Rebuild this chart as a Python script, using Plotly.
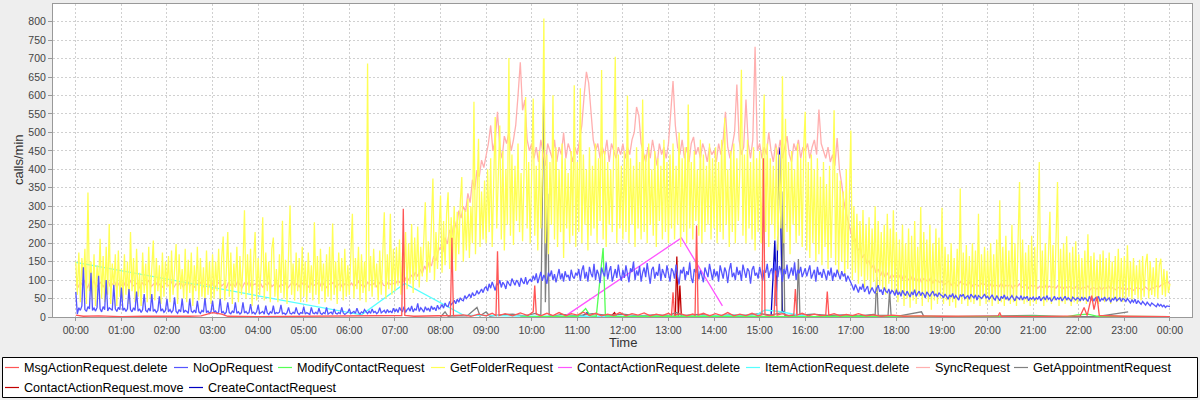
import plotly.graph_objects as go
import pandas as pd

# ---------------- data (calls/min) ----------------
# Dense series sampled on regular minute grids
getfolder_step = 2   # minutes between samples
getfolder = [
150, 60, 175, 40, 160, 95, 185, 35, 337, 70, 150, 45, 170, 30, 140, 80, 212, 50, 165, 40, 190, 60, 252, 35, 145, 75, 170, 30, 180, 55,
130, 45, 170, 60, 150, 35, 230, 70, 160, 40, 185, 55, 120, 30, 175, 65, 145, 40, 190, 50, 130, 207, 45, 160, 70, 140, 35, 175, 55, 150,
80, 165, 40, 180, 60, 145, 198, 35, 170, 75, 130, 50, 185, 40, 155, 65, 175, 30, 140, 70, 190, 45, 160, 55, 135, 40, 180, 60, 150, 35,
170, 50, 150, 70, 185, 40, 160, 218, 45, 120, 230, 55, 175, 35, 145, 80, 190, 40, 165, 60, 140, 289, 50, 170, 65, 185, 30, 150, 230, 45,
160, 60, 140, 270, 45, 175, 70, 150, 40, 185, 215, 55, 130, 40, 170, 65, 261, 50, 155, 35, 180, 302, 60, 145, 45, 175, 70, 160, 40, 190,
55, 150, 40, 175, 65, 140, 45, 257, 60, 165, 35, 185, 70, 145, 40, 170, 55, 190, 45, 253, 60, 150, 35, 175, 70, 160, 45, 185, 55, 140,
60, 175, 280, 50, 160, 75, 190, 45, 170, 65, 150, 40, 687, 70, 165, 55, 185, 80, 145, 45, 180, 60, 195, 284, 50, 170, 75, 280, 60, 185,
70, 190, 85, 210, 60, 175, 95, 230, 75, 200, 90, 252, 65, 215, 100, 245, 80, 190, 110, 225, 311, 95, 205, 120, 240, 375, 100, 230, 130, 250,
329, 120, 260, 140, 280, 338, 130, 270, 155, 300, 125, 285, 170, 310, 379, 150, 290, 180, 320, 160, 300, 200, 583, 170, 330, 483, 190, 340, 210, 370,
200, 400, 230, 430, 190, 380, 542, 240, 420, 519, 210, 450, 180, 400, 250, 702, 220, 440, 195, 410, 260, 470, 230, 390, 205, 450, 596, 240, 420, 200,
430, 592, 220, 410, 180, 450, 240, 390, 809, 200, 440, 170, 420, 250, 601, 210, 460, 190, 400, 230, 470, 160, 430, 240, 390, 200, 450, 220, 628, 190,
420, 230, 620, 200, 440, 250, 400, 180, 460, 220, 410, 240, 470, 200, 430, 260, 669, 210, 450, 190, 420, 250, 400, 230, 460, 705, 200, 440, 240, 410,
210, 450, 230, 600, 200, 430, 250, 410, 190, 460, 240, 420, 210, 589, 230, 440, 200, 470, 250, 400, 220, 450, 190, 430, 260, 410, 210, 480, 230, 420,
200, 440, 240, 470, 210, 410, 250, 500, 190, 430, 230, 460, 200, 576, 240, 420, 210, 450, 260, 400, 220, 480, 200, 440, 230, 410, 250, 470, 210, 430,
240, 460, 200, 420, 230, 480, 210, 540, 250, 400, 190, 450, 230, 470, 200, 430, 260, 410, 670, 220, 440, 200, 480, 240, 420, 210, 460, 180, 430, 230,
450, 200, 420, 603, 230, 470, 190, 430, 250, 410, 210, 460, 180, 440, 240, 652, 200, 537, 230, 420, 170, 450, 250, 400, 200, 470, 220, 430, 190, 460,
556, 180, 420, 160, 440, 200, 400, 150, 430, 170, 380, 140, 420, 190, 360, 130, 410, 160, 350, 560, 140, 390, 120, 370, 150, 340, 110, 400, 130, 330,
505, 100, 300, 120, 280, 90, 260, 110, 290, 80, 250, 100, 270, 70, 240, 95, 300, 65, 260, 85, 230, 75, 250, 60, 280, 90, 240, 70, 289, 65,
230, 40, 210, 60, 250, 30, 200, 50, 240, 25, 220, 45, 260, 35, 190, 55, 298, 30, 230, 50, 210, 40, 250, 20, 200, 45, 240, 35, 215, 50,
296, 35, 190, 45, 170, 30, 200, 40, 160, 25, 185, 50, 348, 35, 175, 45, 195, 30, 165, 40, 200, 35, 180, 45, 280, 30, 170, 50, 190, 35,
180, 40, 200, 30, 170, 45, 210, 35, 316, 40, 190, 30, 220, 45, 180, 35, 250, 40, 200, 30, 185, 366, 45, 210, 35, 175, 40, 195, 30, 220,
40, 190, 35, 210, 420, 45, 180, 30, 200, 40, 170, 285, 35, 195, 45, 215, 366, 30, 185, 40, 200, 35, 219, 45, 175, 30, 190, 40, 205, 35,
170, 40, 160, 45, 180, 35, 224, 50, 165, 40, 175, 45, 155, 35, 170, 50, 180, 40, 160, 45, 175, 35, 150, 50, 165, 40, 185, 45, 160, 40,
165, 50, 194, 55, 150, 45, 160, 60, 140, 50, 155, 45, 165, 55, 145, 171, 50, 150, 60, 135, 55, 160, 50, 140, 158, 60, 130, 55, 125, 65,
90]

sync_step = 3
sync = [
90, 80, 95, 85, 100, 78, 92, 86, 98, 80, 88, 94, 82, 90, 100, 84, 88, 96, 80, 92,
86, 95, 80, 90, 98, 84, 88, 92, 78, 94, 86, 90, 100, 82, 88, 95, 84, 90, 80, 92,
88, 84, 96, 80, 90, 86, 94, 82, 88, 98, 84, 90, 80, 92, 86, 95, 82, 88, 90, 84,
92, 80, 88, 95, 84, 90, 78, 94, 86, 90, 82, 96, 88, 80, 92, 86, 98, 82, 88, 90,
84, 92, 80, 90, 86, 96, 82, 88, 94, 80, 90, 85, 92, 78, 88, 95, 84, 90, 82, 94,
86, 90, 80, 94, 84, 88, 92, 82, 96, 86, 80, 90, 88, 94, 82, 86, 92, 80, 90, 88,
85, 92, 82, 88, 96, 84, 90, 80, 94, 88, 86, 92, 82, 90, 98, 86, 84, 94, 88, 92,
88, 98, 94, 104, 96, 108, 100, 114, 106, 122, 110, 130, 118, 138, 126, 150, 138, 165, 152, 178,
190, 176, 215, 198, 236, 220, 262, 240, 288, 268, 300, 285, 335, 310, 372, 345, 398, 380, 425, 405,
440, 470, 519, 450, 480, 556, 460, 430, 490, 470, 500, 450, 480, 520, 600, 690, 560, 588, 480, 450,
470, 430, 460, 420, 480, 440, 410, 470, 450, 430, 480, 420, 460, 440, 500, 430, 470, 450, 420, 460,
440, 480, 520, 600, 664, 634, 560, 480, 450, 470, 430, 460, 440, 480, 420, 470, 450, 430, 460, 440,
470, 430, 460, 440, 480, 500, 569, 546, 470, 440, 420, 460, 430, 480, 450, 410, 470, 440, 460, 430,
470, 560, 639, 520, 460, 440, 480, 430, 460, 420, 470, 488, 440, 460, 430, 470, 450, 420, 460, 440,
450, 420, 470, 440, 480, 556, 460, 430, 470, 500, 630, 480, 440, 460, 589, 470, 430, 480, 732, 450,
470, 430, 460, 440, 500, 450, 420, 470, 440, 480, 430, 460, 490, 440, 420, 470, 450, 480, 430, 460,
450, 470, 430, 460, 480, 440, 562, 470, 450, 430, 460, 420, 440, 410, 485, 400, 360, 311, 280, 250,
230, 204, 212, 180, 188, 160, 170, 146, 152, 132, 142, 120, 130, 112, 126, 108, 120, 104, 116, 108,
112, 106, 118, 100, 110, 104, 96, 112, 102, 98, 108, 94, 104, 100, 96, 106, 92, 100, 98, 94,
96, 88, 92, 98, 86, 94, 90, 84, 96, 88, 92, 86, 94, 82, 90, 88, 84, 92, 86, 90,
84, 90, 80, 88, 86, 82, 92, 80, 86, 84, 88, 78, 86, 82, 90, 80, 84, 88, 78, 86,
82, 86, 78, 84, 80, 88, 76, 84, 80, 82, 78, 86, 80, 76, 84, 78, 82, 80, 76, 84,
80, 76, 82, 78, 84, 74, 80, 78, 76, 82, 74, 80, 78, 84, 76, 80, 74, 78, 82, 76,
78, 74, 80, 76, 72, 80, 76, 78, 74, 82, 76, 72, 80, 78, 84, 80, 86, 88, 92, 96,
90]

noop_step = 2
noop = [
68, 8, 25, 18, 30, 135, 20, 15, 28, 22, 120, 18, 24, 16, 26, 112, 22, 14, 28, 20, 100, 16, 25, 20, 18, 87, 22, 15, 26, 20,
80, 18, 24, 15, 22, 76, 20, 14, 25, 18, 69, 16, 22, 12, 20, 62, 18, 14, 24, 16, 62, 15, 20, 12, 18, 56, 16, 22, 13, 18,
49, 14, 20, 12, 18, 53, 15, 10, 20, 14, 49, 12, 18, 15, 10, 49, 16, 12, 19, 11, 44, 14, 10, 18, 13, 51, 12, 16, 10, 15,
44, 12, 16, 9, 14, 49, 11, 15, 8, 13, 40, 12, 9, 16, 11, 40, 10, 14, 8, 12, 40, 11, 15, 9, 12, 35, 10, 13, 8, 14,
33, 9, 12, 15, 8, 31, 11, 7, 14, 10, 31, 8, 12, 10, 13, 33, 9, 11, 7, 12, 26, 10, 8, 13, 9, 26, 11, 7, 12, 10,
28, 8, 12, 10, 7, 26, 11, 9, 13, 8, 24, 10, 7, 12, 9, 26, 8, 11, 13, 7, 22, 10, 8, 12, 9, 26, 11, 7, 10, 13,
22, 9, 12, 15, 10, 24, 12, 8, 14, 11, 20, 13, 9, 16, 10, 22, 12, 15, 9, 13, 25, 11, 14, 18, 10, 20, 13, 16, 11, 24,
14, 22, 12, 26, 18, 15, 28, 12, 20, 24, 16, 30, 14, 22, 18, 37, 15, 25, 20, 13, 28, 18, 24, 15, 30, 20, 26, 17, 32, 22,
26, 34, 24, 38, 30, 28, 42, 33, 38, 45, 36, 48, 40, 52, 46, 44, 58, 50, 55, 62, 52, 66, 58, 60, 72, 62, 68, 76, 66, 78,
82, 70, 90, 78, 95, 84, 72, 92, 86, 100, 80, 94, 88, 76, 98, 90, 84, 104, 92, 86, 100, 94, 82, 106, 96, 90, 108, 88, 98, 102,
95, 112, 100, 118, 92, 108, 122, 98, 114, 104, 90, 120, 110, 126, 100, 116, 94, 112, 130, 102, 118, 96, 124, 108, 114, 98, 128, 110, 104, 120,
112, 130, 98, 126, 140, 104, 122, 96, 136, 118, 108, 144, 100, 128, 116, 92, 134, 120, 110, 148, 102, 124, 138, 96, 118, 130, 106, 142, 114, 98,
128, 106, 140, 118, 94, 132, 122, 150, 100, 126, 112, 138, 96, 120, 134, 108, 146, 116, 90, 128, 136, 104, 122, 112, 144, 98, 130, 118, 106, 140,
116, 96, 132, 124, 104, 142, 110, 88, 128, 118, 136, 100, 124, 114, 148, 106, 92, 130, 120, 138, 102, 126, 112, 94, 134, 122, 108, 144, 118, 100,
130, 110, 124, 96, 140, 116, 104, 134, 122, 92, 128, 146, 108, 120, 100, 136, 114, 126, 98, 142, 118, 106, 132, 124, 90, 128, 138, 112, 120, 104,
136, 114, 98, 128, 120, 144, 106, 124, 132, 100, 150, 118, 108, 138, 126, 96, 130, 116, 142, 104, 122, 134, 112, 148, 100, 128, 118, 136, 108, 124,
132, 110, 124, 140, 104, 118, 128, 96, 136, 114, 122, 106, 130, 116, 100, 126, 112, 134, 98, 120, 108, 128, 114, 102, 124, 110, 118, 96, 112, 104,
96, 84, 72, 88, 78, 66, 82, 74, 90, 68, 76, 84, 62, 72, 80, 70, 64, 78, 86, 68, 74, 60, 80, 70, 66, 76, 62, 72, 68, 58,
74, 60, 68, 56, 72, 64, 58, 70, 62, 54, 68, 60, 74, 56, 64, 70, 58, 66, 62, 52, 68, 60, 56, 64, 70, 58, 62, 54, 66, 60,
58, 52, 62, 56, 48, 60, 54, 64, 50, 58, 52, 46, 60, 56, 62, 50, 54, 58, 48, 62, 56, 52, 60, 46, 58, 54, 50, 56, 62, 52,
56, 48, 54, 60, 50, 46, 58, 52, 44, 56, 50, 60, 48, 54, 46, 52, 58, 50, 44, 56, 52, 48, 58, 46, 54, 50, 56, 44, 52, 48,
54, 46, 52, 48, 56, 44, 50, 54, 46, 58, 48, 52, 42, 50, 56, 46, 52, 48, 54, 44, 50, 56, 46, 52, 48, 42, 54, 50, 46, 52,
50, 44, 54, 46, 52, 48, 42, 56, 46, 50, 44, 52, 48, 56, 42, 50, 46, 54, 44, 48, 52, 40, 50, 46, 54, 44, 48, 52, 42, 50,
48, 42, 50, 44, 38, 46, 40, 48, 36, 44, 40, 34, 42, 38, 32, 40, 36, 30, 38, 34, 32, 28, 36, 30, 34, 28, 32, 26, 30, 28,
28]

# Sparse series: (minute of day, calls/min)
msg_delete = [(0, 5), (10, 2), (30, 3), (60, 1), (90, 2), (120, 1), (150, 2), (165, 3), (180, 12), (192, 8), (200, 2),
    (240, 1), (300, 2), (360, 1), (420, 2), (429, 4), (431, 293), (433, 4), (445, 2), (480, 3), (493, 4), (495, 215),
    (497, 3), (510, 6), (520, 2), (530, 8), (540, 3), (548, 10), (553, 4), (555, 178), (557, 4), (565, 9), (575, 3),
    (585, 11), (595, 4), (602, 14), (604, 85), (606, 8), (612, 3), (620, 10), (628, 4), (636, 12), (645, 3), (652, 9),
    (660, 5), (668, 13), (676, 4), (684, 10), (692, 3), (700, 8), (708, 4), (716, 12), (724, 3), (732, 9), (740, 5),
    (748, 11), (756, 3), (764, 8), (772, 4), (780, 10), (784, 5), (786, 67), (788, 5), (796, 9), (804, 3), (812, 8),
    (815, 5), (817, 248), (819, 5), (826, 10), (834, 3), (842, 9), (850, 4), (858, 12), (866, 3), (874, 8), (882, 4),
    (890, 10), (898, 3), (903, 6), (905, 430), (907, 6), (912, 4), (919, 5), (921, 126), (923, 5), (930, 9), (938, 3),
    (945, 6), (947, 76), (949, 5), (956, 10), (964, 3), (972, 8), (980, 4), (987, 5), (989, 69), (991, 5), (998, 9),
    (1006, 3), (1014, 7), (1022, 4), (1030, 9), (1040, 3), (1050, 6), (1060, 2), (1075, 5), (1090, 2), (1110, 3),
    (1140, 2), (1170, 3), (1200, 2), (1214, 3), (1216, 12), (1218, 2), (1260, 1), (1300, 2), (1322, 3), (1327, 26),
    (1331, 4), (1337, 58), (1340, 20), (1344, 56), (1347, 4), (1380, 2), (1410, 1), (1440, 1)]
modify_contact = [(585, 0), (640, 1), (661, 2), (671, 23), (677, 3), (685, 2), (694, 187), (697, 3), (720, 1), (780, 2),
    (840, 1), (900, 2), (960, 1), (1020, 2), (1080, 1), (1140, 2), (1200, 1), (1260, 2), (1305, 1), (1318, 6),
    (1332, 8), (1345, 2), (1400, 1), (1440, 1)]
contact_delete = [(646, 5), (797, 214), (851, 30)]
item_delete = [(0, 148), (376, 6), (433, 91), (510, 5), (600, 2), (700, 3), (800, 2), (896, 6), (907, 19), (925, 15),
    (944, 8), (960, 2)]
get_appointment = [(480, 0), (486, 14), (490, 2), (500, 4), (515, 3), (528, 26), (532, 3), (540, 14), (545, 2), (555, 5),
    (575, 8), (590, 3), (605, 10), (612, 4), (616, 635), (618, 40), (621, 334), (623, 5), (630, 3), (640, 7), (660, 3),
    (680, 9), (700, 4), (720, 8), (740, 3), (760, 6), (780, 4), (790, 12), (800, 4), (820, 7), (840, 3), (860, 6),
    (880, 4), (900, 9), (915, 5), (929, 12), (931, 340), (933, 5), (940, 4), (949, 6), (951, 157), (953, 5), (970, 8),
    (990, 4), (1010, 6), (1030, 3), (1050, 7), (1052, 5), (1054, 108), (1056, 5), (1069, 4), (1071, 71), (1073, 3),
    (1084, 3), (1113, 14), (1116, 2), (1160, 1), (1230, 3), (1260, 4), (1300, 1), (1343, 1), (1385, 14)]
contact_move = [(690, 0), (705, 3), (709, 12), (712, 0), (789, 0), (791, 164), (793, 2), (795, 85), (797, 0), (860, 0)]
create_contact = [(660, 0), (668, 4), (673, 12), (678, 0), (915, 0), (920, 207), (922, 30), (926, 460), (930, 17),
    (934, 5), (945, 0)]

series_names = ["MsgActionRequest.delete", "NoOpRequest", "ModifyContactRequest", "GetFolderRequest",
                "ContactActionRequest.delete", "ItemActionRequest.delete", "SyncRequest",
                "GetAppointmentRequest", "ContactActionRequest.move", "CreateContactRequest"]
series_colors = ["#FF5555", "#5555FF", "#55FF55", "#FFFF55", "#FF55FF", "#55FFFF", "#FFAFAF",
                 "#808080", "#C00000", "#0000C0"]
hour_labels = ["%02d:00" % (h % 24) for h in range(25)]
y_ticks = list(range(0, 801, 50))

# ---------------- helpers ----------------
BASE = pd.Timestamp("2010-01-01 00:00")


def tstamps(minutes):
    return [BASE + pd.Timedelta(minutes=m) for m in minutes]


def regular(vals, step):
    return tstamps([i * step for i in range(len(vals))]), vals


def sparse(pairs):
    return tstamps([p[0] for p in pairs]), [p[1] for p in pairs]


series_xy = [
    sparse(msg_delete),
    regular(noop, noop_step),
    sparse(modify_contact),
    regular(getfolder, getfolder_step),
    sparse(contact_delete),
    sparse(item_delete),
    regular(sync, sync_step),
    sparse(get_appointment),
    sparse(contact_move),
    sparse(create_contact),
]

# plot-area geometry in pixels
W_FIG, H_FIG = 1200, 400
L, R, T, B = 53, 1192, 4, 317
PW, PH = R - L, B - T


def px(x):
    return (x - L) / PW


def py(y):
    return (B - y) / PH


fig = go.Figure()
# JFreeChart draws series in reverse order: last series at the bottom
for i in reversed(range(len(series_names))):
    xs, ys = series_xy[i]
    fig.add_trace(go.Scatter(x=xs, y=ys, mode="lines", name=series_names[i],
                             line=dict(color=series_colors[i], width=1.3),
                             hoverinfo="skip", showlegend=False))

FONT = "Liberation Sans, Arial, sans-serif"
axis_common = dict(showgrid=True, gridcolor="#D0D0D0", griddash="2px,2px", gridwidth=1,
                   ticks="outside", tickcolor="#999999", showline=True, linecolor="#999999",
                   linewidth=1, mirror=True, zeroline=False, automargin=False,
                   tickfont=dict(family=FONT, size=10.5, color="#444444"))

fig.update_layout(
    template="none",
    width=W_FIG, height=H_FIG,
    margin=dict(l=L, r=W_FIG - R, t=T, b=H_FIG - B, pad=0, autoexpand=False),
    paper_bgcolor="#EEEEEE", plot_bgcolor="#FFFFFF",
    showlegend=False,
    xaxis=dict(type="date",
               range=[BASE - pd.Timedelta(minutes=30), BASE + pd.Timedelta(minutes=1469)],
               tickvals=tstamps([60 * h for h in range(25)]), ticktext=hour_labels,
               ticklen=3, **axis_common),
    yaxis=dict(range=[0, 848], tickvals=y_ticks, ticktext=[str(v) for v in y_ticks],
               ticklen=4, **axis_common),
)

# axis titles
fig.add_annotation(x=px((L + R) / 2), y=py(342), xref="paper", yref="paper", text="Time",
                   showarrow=False, xanchor="center", yanchor="middle",
                   font=dict(family=FONT, size=13, color="#333333"))
fig.add_annotation(x=px(18), y=py(160), xref="paper", yref="paper", text="calls/min",
                   showarrow=False, xanchor="center", yanchor="middle", textangle=-90,
                   font=dict(family=FONT, size=13, color="#333333"))

# legend (JFreeChart style box below the chart)
fig.add_shape(type="rect", xref="paper", yref="paper", x0=px(2.5), x1=px(1197.5), y0=py(357.5), y1=py(397.5),
              line=dict(color="#000000", width=1), fillcolor="#FFFFFF", layer="below")
legend_text_x = [23, 192, 296, 449, 576, 764, 934, 1032, 23, 207]
legend_row_y = [367.5] * 8 + [387.5] * 2
for i, name in enumerate(series_names):
    tx, ty = legend_text_x[i], legend_row_y[i]
    fig.add_shape(type="line", xref="paper", yref="paper", x0=px(tx - 18), x1=px(tx - 4),
                  y0=py(ty), y1=py(ty), line=dict(color=series_colors[i], width=1.2), layer="above")
    fig.add_annotation(x=px(tx - 1), y=py(ty), xref="paper", yref="paper", text=name,
                       showarrow=False, xanchor="left", yanchor="middle",
                       font=dict(family=FONT, size=12.6, color="#000000"))

# the page body has a default 8px margin; remove it so the figure sits at the window origin
fig.write_html("out.html", config={"displayModeBar": False, "staticPlot": True},
               post_script="document.body.style.margin='0';document.body.style.overflow='hidden';")
